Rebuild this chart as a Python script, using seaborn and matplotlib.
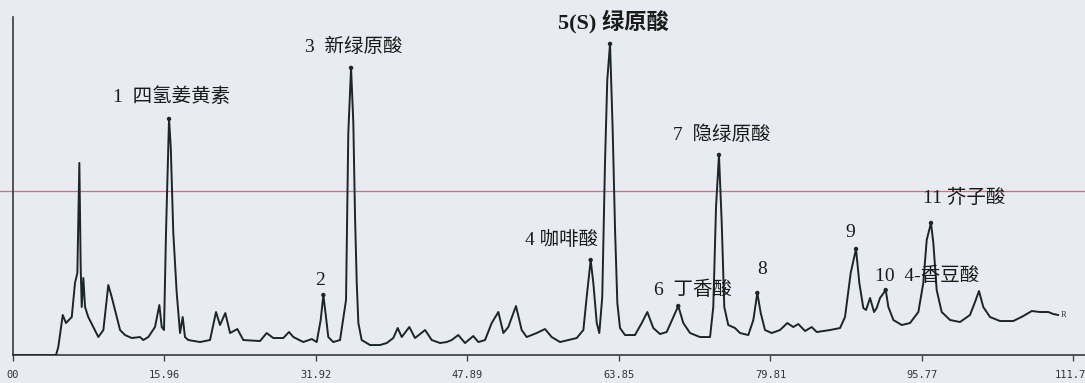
import numpy as np
import pandas as pd
import seaborn as sns
import matplotlib.pyplot as plt

# Chromatogram trace (time in min, signal in mAU)
time = [0.00, 4.53, 4.77, 5.24, 5.58, 6.19, 6.53, 6.78, 6.99, 7.13, 7.24, 7.41, 7.59, 7.93,
        8.46, 8.99, 9.52, 9.87, 10.04, 10.40, 10.75, 11.28, 11.80, 12.51, 13.38, 13.73,
        14.26, 14.96, 15.42, 15.67, 15.91, 16.12, 16.44, 16.62, 16.89, 17.25, 17.60, 17.88,
        18.12, 18.47, 19.71, 20.76, 21.39, 21.81, 22.37, 22.87, 23.64, 24.27, 26.03, 26.73,
        27.43, 28.48, 29.08, 29.54, 30.59, 31.48, 32.00, 32.42, 32.70, 32.98, 33.22, 33.75,
        34.46, 35.09, 35.33, 35.62, 35.86, 36.04, 36.22, 36.39, 36.74, 37.62, 38.67, 39.38,
        40.07, 40.54, 40.96, 41.76, 42.36, 43.42, 44.12, 45.00, 45.70, 46.23, 46.92, 47.63,
        48.50, 49.03, 49.74, 50.44, 51.14, 51.67, 52.19, 53.00, 53.60, 54.13, 55.18, 56.06,
        56.76, 57.64, 59.40, 60.10, 60.45, 60.87, 61.15, 61.51, 61.78, 62.09, 62.38, 62.62,
        62.91, 63.19, 63.44, 63.68, 63.96, 64.49, 65.54, 66.25, 66.84, 67.47, 68.18, 68.88,
        69.58, 70.10, 70.63, 71.34, 72.39, 73.45, 73.79, 74.08, 74.39, 74.68, 74.95, 75.37,
        76.08, 76.61, 77.48, 78.01, 78.43, 78.79, 79.24, 79.95, 80.82, 81.59, 82.22, 82.75,
        83.46, 84.16, 84.69, 86.09, 87.15, 87.67, 88.27, 88.83, 89.18, 89.60, 89.89, 90.31,
        90.73, 91.01, 91.36, 91.96, 92.24, 92.77, 93.65, 94.52, 95.40, 95.92, 96.28, 96.73,
        96.98, 97.33, 97.86, 98.74, 99.79, 100.84, 101.37, 101.79, 102.24, 102.95, 104.00,
        105.41, 106.46, 107.35, 108.22, 109.10, 109.62, 110.15]
signal = [0, 0, 8, 40, 32, 38, 72, 82, 192, 88, 48, 77, 48, 38,
          28, 18, 25, 55, 70, 58, 45, 25, 20, 17, 18, 15,
          18, 28, 50, 28, 25, 122, 236, 208, 122, 62, 22, 38,
          18, 15, 13, 15, 43, 30, 42, 22, 26, 15, 14, 22,
          17, 17, 23, 18, 13, 16, 13, 35, 60, 38, 18, 13,
          15, 55, 222, 287, 232, 138, 72, 32, 15, 10, 10, 12,
          17, 27, 18, 28, 17, 25, 15, 12, 13, 15, 20, 12,
          19, 13, 15, 32, 43, 22, 28, 49, 25, 18, 22, 26,
          18, 13, 17, 25, 58, 95, 72, 32, 22, 58, 192, 275,
          311, 225, 125, 52, 27, 20, 20, 32, 43, 27, 21, 23,
          38, 49, 32, 22, 18, 18, 48, 148, 200, 132, 48, 30,
          27, 22, 20, 35, 62, 42, 25, 22, 25, 32, 28, 31,
          24, 28, 23, 25, 27, 38, 82, 106, 72, 47, 45, 57,
          43, 47, 57, 65, 48, 35, 30, 32, 43, 72, 115, 132,
          112, 65, 43, 35, 33, 40, 53, 64, 48, 38, 34,
          34, 39, 44, 43, 43, 41, 40]

# Marked peaks (apex)
peak_time = [16.44, 32.70, 35.62, 60.87, 62.91, 70.10, 74.39, 78.43, 88.83, 91.96, 96.73]
peak_height = [236, 60, 287, 95, 311, 49, 200, 62, 106, 65, 132]

# Peak labels
peak_labels = ['1  四氢姜黄素', '2', '3  新绿原酸', '4 咖啡酸', '5(S) 绿原酸', '6  丁香酸',
               '7  隐绿原酸', '8', '9', '10  4-香豆酸', '11 芥子酸']

tick_values = [0.00, 15.96, 31.92, 47.89, 63.85, 79.81, 95.77, 111.73]
tick_labels = ['00', '15.96', '31.92', '47.89', '63.85', '79.81', '95.77', '111.73']

ref_level = 164

df = pd.DataFrame({'time': time, 'signal': signal})
df_peaks = pd.DataFrame({'time': peak_time, 'signal': peak_height})

sns.set_style('white')
plt.rcParams['font.family'] = ['Liberation Serif', 'Noto Sans CJK SC', 'DejaVu Sans']

bg = '#e8ebf1'
fig = plt.figure(figsize=(10.85, 3.83), dpi=100, facecolor=bg)
ax = fig.add_axes([0.012, 0.073, 0.988, 0.883])
ax.set_facecolor(bg)

# red reference line across the whole width
ax.axhline(ref_level, xmin=-0.02, xmax=1.0, color='#d86a80', lw=0.9, clip_on=False, zorder=1)

sns.lineplot(data=df, x='time', y='signal', sort=False, estimator=None,
             color='#1c2529', linewidth=1.4, ax=ax, zorder=3)
sns.scatterplot(data=df_peaks, x='time', y='signal', color='#1c2529', s=10,
                edgecolor='none', ax=ax, zorder=4)

# label positions (left edge of text, vertical centre)
label_pos = [(10.5, 258), (31.8, 74), (30.8, 308), (53.9, 115), (57.4, 333), (67.5, 65),
             (69.5, 220), (78.4, 85), (87.7, 122), (90.8, 79), (95.9, 157)]
for lab, (lx, ly) in zip(peak_labels, label_pos):
    big = lab.startswith('5(S)')
    ax.text(lx, ly, lab, ha='left', va='center',
            fontsize=16 if big else 14, fontweight='bold' if big else 'normal',
            color='#1a1a1a', zorder=5)

ax.text(110.4, 40, 'R', fontsize=6, ha='left', va='center', color='#333333')

ax.set_xlim(0, 112.96)
ax.set_ylim(0, 338)
ax.set_xticks(tick_values)
ax.set_xticklabels(tick_labels, family='DejaVu Sans Mono', fontsize=7.5, color='#333333')
ax.set_yticks([])
ax.tick_params(axis='x', direction='out', length=4, width=1, color='#444444', pad=7, bottom=True)
ax.set_xlabel('')
ax.set_ylabel('')
for side in ['top', 'right']:
    ax.spines[side].set_visible(False)
for side in ['left', 'bottom']:
    ax.spines[side].set_color('#3a3a3a')
    ax.spines[side].set_linewidth(1.2)

fig.savefig('out.png', dpi=100, facecolor=bg)
